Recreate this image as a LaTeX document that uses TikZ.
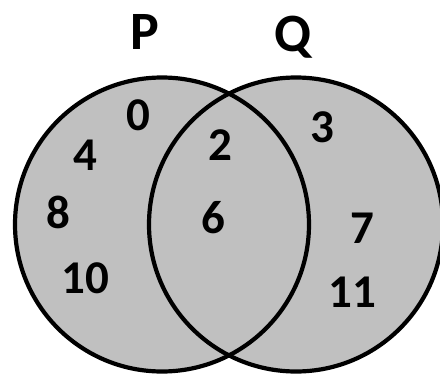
\documentclass[tikz,border=0pt]{standalone}
\usepackage{fontspec}
\setmainfont{Carlito}
\begin{document}
\begin{tikzpicture}[x=1pt,y=-1pt,
  setc/.style={circle,draw=black,line width=4.2pt,fill=setgray,minimum size=294pt,inner sep=0pt},
  setlbl/.style={font=\fontsize{54}{58}\selectfont\bfseries,inner sep=0pt},
  elem/.style={font=\fontsize{47}{50}\selectfont\bfseries,inner sep=0pt}]
\definecolor{setgray}{RGB}{192,192,192}
\useasboundingbox (0,0) rectangle (440,373);
% fills
\node[setc,draw=none] (Pfill) at (162,224.5) {};
\node[setc,draw=none] (Qfill) at (296,224.5) {};
% outlines
\node[setc,fill=none] (Pc) at (162,224.5) {};
\node[setc,fill=none] (Qc) at (296,224.5) {};
% set labels
\node[setlbl] (P) at (145,32) {P};
\node[setlbl] (Q) at (293,37) {Q};
% elements
\node[elem] (e0) at (138,115) {0};
\node[elem] (e4) at (85,155) {4};
\node[elem] (e8) at (58,212) {8};
\node[elem] (e10) at (85,278) {10};
\node[elem] (e2) at (220,145) {2};
\node[elem] (e6) at (213,218) {6};
\node[elem] (e3) at (322,127) {3};
\node[elem] (e7) at (362,228) {7};
\node[elem] (e11) at (352,292) {11};
\end{tikzpicture}
\end{document}
